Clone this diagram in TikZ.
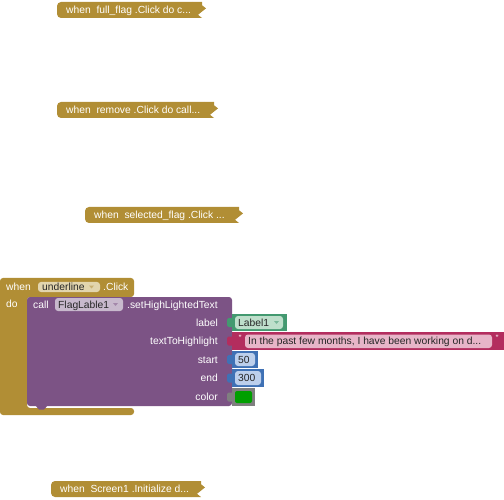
\documentclass[tikz,border=0pt]{standalone}
\usepackage{fontspec}
\setmainfont{Liberation Sans}
\definecolor{evgold}{HTML}{B18E35}
\definecolor{fgold}{HTML}{E2D5AE}
\definecolor{mpurp}{HTML}{7C5385}
\definecolor{fpurp}{HTML}{C8B9CD}
\definecolor{ggreen}{HTML}{439970}
\definecolor{fgreen}{HTML}{BEDFCB}
\definecolor{tpink}{HTML}{B32D5E}
\definecolor{fpink}{HTML}{E7B5C8}
\definecolor{mblue}{HTML}{3F71B5}
\definecolor{fblue}{HTML}{BCCFEC}
\definecolor{cgrey}{HTML}{7F7F7F}
\definecolor{swatch}{HTML}{009F00}
\newcommand\collapsedblk[5]{%
  \fill[evgold, rounded corners=4pt] (#2,#3) rectangle (#4-6,#3+16);
  \fill[evgold] (#4-10,#3) -- (#4,#3) -- (#4,#3+3.2) -- (#4+4,#3+6.4) -- (#4-4,#3+12.8) -- (#4,#3+16) -- (#4-10,#3+16) -- cycle;
  \node[lbl] (#1) at (#2+9,#3+8) {#5};
}
\newcommand\ddtri[3]{%
  \fill[#3] (#1,#2-1.5) -- (#1+5,#2-1.5) -- (#1+2.5,#2+1.5) -- cycle;
}
\begin{document}
\begin{tikzpicture}[x=1pt,y=-1pt,
  lbl/.style={inner sep=0pt, text height=7.4pt, text depth=0pt,
    font=\fontsize{10.3}{12}\selectfont, text=white, anchor=west},
  ftxt/.style={lbl, text=black!85},
  rlbl/.style={lbl, anchor=east},
  fieldbox/.style={rounded corners=3pt},
  qmark/.style={inner sep=0pt, font=\fontsize{9}{10}\selectfont, text=white},
]
\useasboundingbox (0,0) rectangle (504,500);

% collapsed event blocks
\collapsedblk{c1}{57}{2}{202}{when\ \ full\_flag .Click do c...}
\collapsedblk{c2}{57}{102}{214}{when\ \ remove .Click do call...}
\collapsedblk{c3}{85}{207}{239}{when\ \ selected\_flag .Click ...}
\collapsedblk{c4}{51}{481}{201}{when\ \ Screen1 .Initialize d...}

% main event block (C shape)
\fill[evgold, rounded corners=3pt] (0,278) -- (134,278) -- (134,297) -- (27,297)
  -- (27,408) -- (134,408) -- (134,415) -- (0,415) -- cycle;
\node[lbl] (when) at (6,287) {when};
\fill[fgold, fieldbox] (38,282) rectangle (100,292);
\node[ftxt] (evname) at (42,287) {underline};
\ddtri{89}{287}{evgold!70}
\node[lbl] (click) at (103,287) {.Click};
\node[lbl] (do) at (6,304) {do};

% method call block
\fill[mpurp, rounded corners=3pt] (27,297) rectangle (232,406);
\fill[mpurp] (35,405) -- (39,409.5) -- (44,409.5) -- (48,405) -- cycle;
\node[lbl] (call) at (33,304.5) {call};
\fill[fpurp, fieldbox] (55,298) rectangle (123,311);
\node[ftxt] (comp) at (58,304.5) {FlagLable1};
\ddtri{113}{304.5}{mpurp!70}
\node[lbl] (meth) at (127,304.5) {.setHighLightedText};

\node[rlbl] (l1) at (218,322.5) {label};
\node[rlbl] (l2) at (218,341) {textToHighlight};
\node[rlbl] (l3) at (218,359.5) {start};
\node[rlbl] (l4) at (218,378) {end};
\node[rlbl] (l5) at (218,397) {color};

% label getter (green)
\fill[ggreen] (232,314) rectangle (287,331);
\fill[ggreen, rounded corners=1.5pt] (227,318) rectangle (234,327);
\fill[fgreen, fieldbox] (235,316) rectangle (283,329);
\node[ftxt] (lab) at (238,322.5) {Label1};
\ddtri{274}{322.5}{ggreen!70}

% text block (pink)
\fill[tpink] (232,332) rectangle (506,350);
\fill[tpink, rounded corners=1.5pt] (227,336.5) rectangle (234,345.5);
\node[qmark] (q1) at (240,338) {"};
\fill[fpink, fieldbox] (245,334.5) rectangle (492,348);
\node[ftxt] (txt) at (248,341) {In the past few months, I have been working on d...};
\node[qmark] (q2) at (497,338) {"};

% number blocks (blue)
\fill[mblue] (232,351) rectangle (258,368);
\fill[mblue, rounded corners=1.5pt] (227,355) rectangle (234,364);
\fill[fblue, fieldbox] (235,353) rectangle (255,366);
\node[ftxt] (n50) at (238,359.5) {50};

\fill[mblue] (232,369) rectangle (264,387);
\fill[mblue, rounded corners=1.5pt] (227,373.5) rectangle (234,382.5);
\fill[fblue, fieldbox] (235,371) rectangle (261,385);
\node[ftxt] (n300) at (238,378) {300};

% colour block (grey)
\fill[cgrey] (232,388) rectangle (255,406);
\fill[cgrey, rounded corners=1.5pt] (227,392.5) rectangle (234,401.5);
\fill[swatch, rounded corners=2pt] (235,391) rectangle (252,403);
\end{tikzpicture}
\end{document}
